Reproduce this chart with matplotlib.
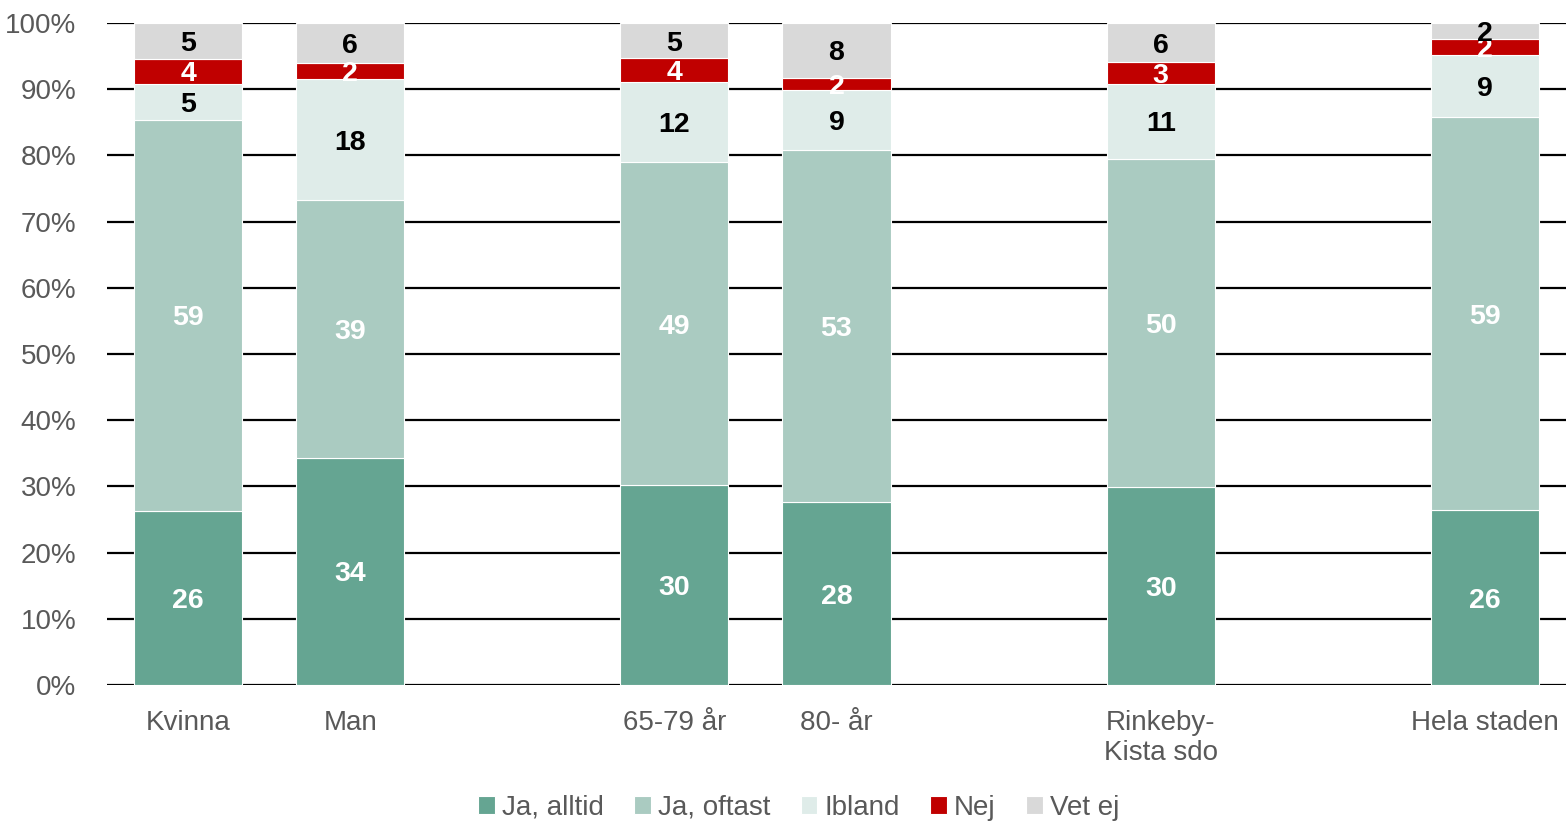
import numpy as np
import matplotlib
matplotlib.use("Agg")
import matplotlib.pyplot as plt

plt.rcParams['font.family'] = ['Liberation Sans', 'DejaVu Sans']

# categories, empty strings are the gaps between groups
categories = ["Kvinna", "Man", "", "65-79 år", "80- år", "", "Rinkeby-\nKista sdo", "", "Hela staden"]
series = ["Ja, alltid", "Ja, oftast", "Ibland", "Nej", "Vet ej"]

# percent per category (None = empty slot)
ja_alltid = [26.3, 34.3, None, 30.2, 27.6, None, 29.9, None, 26.4]
ja_oftast = [59.1, 38.9, None, 48.8, 53.2, None, 49.6, None, 59.4]
ibland    = [5.4, 18.4, None, 12.1, 9.1, None, 11.3, None, 9.4]
nej       = [3.8, 2.4, None, 3.6, 1.8, None, 3.3, None, 2.4]
vet_ej    = [5.4, 6.0, None, 5.3, 8.3, None, 5.9, None, 2.4]

colors = ["#65a592", "#aacbc1", "#dfece9", "#c00000", "#d9d9d9"]
label_colors = ["white", "white", "black", "white", "black"]

fig = plt.figure(figsize=(15.66, 8.25), dpi=100)
ax = fig.add_axes([107/1566, 1-685/825, 1-107/1566, (685-23)/825])

x = np.arange(len(categories))
idx = [i for i, c in enumerate(categories) if c != ""]
bottom = np.zeros(len(idx))
for name, vals, col, lcol in zip(series, [ja_alltid, ja_oftast, ibland, nej, vet_ej], colors, label_colors):
    v = np.array([vals[i] for i in idx], dtype=float)
    ax.bar(x[idx], v, 0.667, bottom=bottom, color=col, edgecolor="white",
           linewidth=0.8, label=name, zorder=3)
    for xi, b, h in zip(x[idx], bottom, v):
        ax.text(xi, b + h / 2, f"{h:.0f}", ha="center", va="center_baseline", color=lcol,
                fontsize=20.5, fontweight="bold", zorder=4)
    bottom += v

ax.set_xlim(-0.5, len(categories) - 0.5)
ax.set_ylim(0, 100)
ax.set_yticks(np.arange(0, 101, 10))
ax.set_yticklabels([f"{t}%" for t in range(0, 101, 10)])
ax.set_xticks(x[idx])
ax.set_xticklabels([categories[i] for i in idx])
ax.tick_params(axis="both", length=0, labelsize=20, labelcolor="#595959")
ax.tick_params(axis="x", pad=18)
ax.tick_params(axis="y", pad=22)
ax.yaxis.grid(True, color="black", linewidth=1.6, zorder=0)
ax.set_axisbelow(True)
for s in ax.spines.values():
    s.set_visible(False)

leg = fig.legend(loc="lower center", bbox_to_anchor=(0.51, -0.025), ncol=5, frameon=False,
                 fontsize=20, handlelength=0.6, handleheight=0.6, handletextpad=0.25,
                 columnspacing=1.1)
for t in leg.get_texts():
    t.set_color("#595959")

fig.savefig("out.png", dpi=100)
